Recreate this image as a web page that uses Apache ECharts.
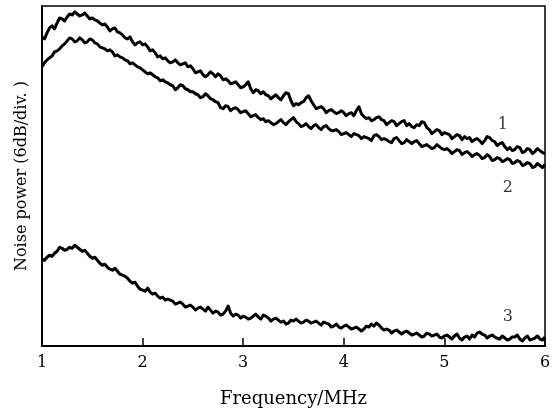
<!DOCTYPE html>
<html>
<head>
<meta charset="utf-8">
<script src="https://cdn.jsdelivr.net/npm/echarts@6/dist/echarts.min.js"></script>
<style>html,body{margin:0;padding:0;background:#fff;}#c{width:560px;height:413px;}</style>
</head>
<body>
<div id="c"></div>
<script>
// Frequency samples (MHz)
var freq = [
  1,1.025,1.05,1.075,1.1,1.125,1.15,1.175,1.2,1.225,1.25,1.275,1.3,1.325,1.35,1.375,1.4,1.425,1.45,1.475,
  1.5,1.525,1.55,1.575,1.6,1.625,1.65,1.675,1.7,1.725,1.75,1.775,1.8,1.825,1.85,1.875,1.9,1.925,1.95,1.975,
  2,2.025,2.05,2.075,2.1,2.125,2.15,2.175,2.2,2.225,2.25,2.275,2.3,2.325,2.35,2.375,2.4,2.425,2.45,2.475,
  2.5,2.525,2.55,2.575,2.6,2.625,2.65,2.675,2.7,2.725,2.75,2.775,2.8,2.825,2.85,2.875,2.9,2.925,2.95,2.975,
  3,3.025,3.05,3.075,3.1,3.125,3.15,3.175,3.2,3.225,3.25,3.275,3.3,3.325,3.35,3.375,3.4,3.425,3.45,3.475,
  3.5,3.525,3.55,3.575,3.6,3.625,3.65,3.675,3.7,3.725,3.75,3.775,3.8,3.825,3.85,3.875,3.9,3.925,3.95,3.975,
  4,4.025,4.05,4.075,4.1,4.125,4.15,4.175,4.2,4.225,4.25,4.275,4.3,4.325,4.35,4.375,4.4,4.425,4.45,4.475,
  4.5,4.525,4.55,4.575,4.6,4.625,4.65,4.675,4.7,4.725,4.75,4.775,4.8,4.825,4.85,4.875,4.9,4.925,4.95,4.975,
  5,5.025,5.05,5.075,5.1,5.125,5.15,5.175,5.2,5.225,5.25,5.275,5.3,5.325,5.35,5.375,5.4,5.425,5.45,5.475,
  5.5,5.525,5.55,5.575,5.6,5.625,5.65,5.675,5.7,5.725,5.75,5.775,5.8,5.825,5.85,5.875,5.9,5.925,5.95,5.975,6];

// Noise power (arbitrary units)
var curve1 = [
  310,308,314,319,321,318,324,329,328,326,330,333,332,335,333,331,332,334,331,328,329,327,326,324,322,323,320,316,318,319,315,314,312,309,308,310,305,302,304,305,
  302,303,300,296,297,294,290,291,288,289,286,284,285,287,284,282,283,284,280,281,278,274,275,276,272,270,272,275,273,270,273,271,267,268,266,263,264,265,262,259,
  260,262,265,258,254,257,256,253,255,252,251,248,250,252,249,247,251,254,253,246,241,243,242,244,245,249,251,246,242,238,239,240,238,234,236,237,235,233,234,236,
  234,231,233,234,231,236,240,233,230,228,229,226,227,229,230,227,226,222,224,226,225,221,223,225,226,221,223,220,219,222,221,225,224,219,217,213,215,217,216,212,
  214,213,212,208,210,212,211,207,210,208,209,205,207,208,206,203,206,210,209,206,205,201,203,204,200,197,199,196,197,200,199,194,195,198,197,193,195,198,196,194,193];

var curve2 = [
  280,284,287,289,291,295,296,298,301,303,306,309,308,305,306,309,307,304,305,308,307,304,303,300,299,298,296,297,295,291,292,290,289,287,286,283,284,282,280,279,
  277,275,273,274,272,270,269,266,267,265,264,262,261,257,259,262,261,258,257,255,255,253,252,249,250,253,251,248,247,245,244,239,238,241,240,236,238,239,237,234,
  235,236,233,230,231,232,229,227,228,225,226,224,222,223,225,227,224,222,225,227,229,225,223,220,221,223,220,218,221,222,219,217,220,221,218,216,216,217,215,212,
  213,214,212,210,213,212,211,208,210,209,208,206,211,212,210,207,208,207,205,204,208,209,206,203,204,207,205,203,205,206,203,200,201,202,200,198,199,202,200,198,
  197,198,196,193,195,197,196,192,194,195,193,190,192,193,191,188,189,192,190,186,187,189,188,185,186,188,187,183,184,186,185,181,182,184,183,179,180,183,181,179,182];

var curve3 = [
  87,86,89,91,90,93,95,99,98,96,97,99,98,101,99,97,95,96,93,90,88,89,86,83,81,82,79,77,76,78,75,72,71,70,68,65,63,64,60,57,
  56,55,58,54,52,53,50,48,49,46,47,46,45,42,43,44,42,39,40,41,39,36,38,39,37,35,39,36,33,35,34,31,32,35,40,33,30,32,31,28,
  30,29,27,28,30,32,29,27,31,30,28,25,27,28,26,24,25,22,23,26,25,27,25,23,24,26,25,23,24,25,23,21,24,23,22,19,20,22,19,18,
  20,21,19,17,18,19,17,15,17,20,19,22,20,23,21,18,16,17,16,13,15,16,14,12,14,15,13,11,12,13,11,9,10,13,12,10,11,12,9,8,
  10,11,9,7,10,12,8,6,9,10,7,11,9,13,14,12,11,8,10,11,9,8,7,10,8,6,7,9,9,11,7,5,8,10,6,7,8,10,7,6,9];

var xTicks = [1, 2, 3, 4, 5, 6];
var curveLabels = [
  {name: '1', x: 5.58, y: 222},
  {name: '2', x: 5.63, y: 159},
  {name: '3', x: 5.63, y: 29}
];

function pairs(ys) { return freq.map(function (f, i) { return [f, ys[i]]; }); }

var serif = '"DejaVu Serif", "Liberation Serif", serif';
var chart = echarts.init(document.getElementById('c'), null, {renderer: 'canvas'});
var lineStyle = {color: '#000', width: 3, join: 'round'};
chart.setOption({
  animation: false,
  backgroundColor: '#fff',
  grid: {left: 42, right: 15, top: 6, bottom: 66, show: true, borderColor: '#000', borderWidth: 1.5, backgroundColor: 'transparent'},
  xAxis: {
    type: 'value', min: 1, max: 6, interval: 1,
    name: 'Frequency/MHz', nameLocation: 'middle', nameGap: 44,
    nameTextStyle: {fontFamily: serif, fontSize: 18, color: '#000'},
    axisLine: {show: true, lineStyle: {color: '#000', width: 2}},
    axisTick: {show: true, inside: true, length: 8, lineStyle: {color: '#000', width: 1.5}},
    axisLabel: {fontFamily: serif, fontSize: 16, color: '#000', margin: 9,
      formatter: function (v) { return xTicks.indexOf(v) >= 0 ? String(v) : ''; }},
    splitLine: {show: false}
  },
  yAxis: {
    type: 'value', min: 0, max: 341,
    name: 'Noise power (6dB/div. )', nameLocation: 'middle', nameGap: 12,
    nameTextStyle: {fontFamily: serif, fontSize: 16, color: '#000'},
    axisLine: {show: true, lineStyle: {color: '#000', width: 2}},
    axisTick: {show: false}, axisLabel: {show: false}, splitLine: {show: false}
  },
  series: [
    {type: 'line', data: pairs(curve1), showSymbol: false, lineStyle: lineStyle, z: 3},
    {type: 'line', data: pairs(curve2), showSymbol: false, lineStyle: lineStyle, z: 3},
    {type: 'line', data: pairs(curve3), showSymbol: false, lineStyle: lineStyle, z: 3},
    {type: 'scatter', data: curveLabels.map(function (d) { return {value: [d.x, d.y], name: d.name}; }),
      symbolSize: 0, silent: true,
      label: {show: true, position: 'inside', formatter: '{b}', fontFamily: serif, fontSize: 16, color: '#000'}}
  ]
});
</script>
</body>
</html>
